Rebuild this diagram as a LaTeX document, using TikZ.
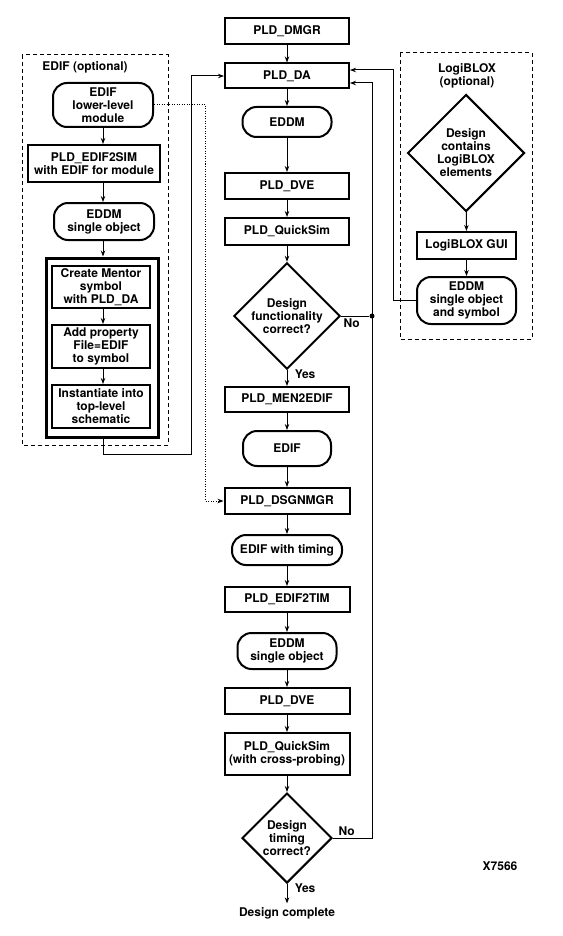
\documentclass[tikz,border=0pt]{standalone}
\usepackage{fontspec}
\setmainfont{TeX Gyre Heros}
\usetikzlibrary{positioning,shapes.geometric,arrows.meta}

\begin{document}
\begin{tikzpicture}[
        %Environment config
        x=1pt,y=-1pt,
        font=\fontsize{12}{13}\selectfont\bfseries,
        line width=1pt,
        >={Stealth[length=6pt,width=4.5pt]},
        %Environment styles
        BoxCfg/.style 2 args={
            draw,
            rectangle,
            line width=2pt,
            inner sep=0pt,
            align=center,
            minimum width=#1,
            minimum height=#2
        },
        TermCfg/.style 2 args={BoxCfg={#1}{#2},rounded corners=14pt},
        DecisionCfg/.style={
            draw,
            diamond,
            aspect=1,
            line width=2pt,
            inner sep=0pt,
            align=center,
            minimum width=#1,
            minimum height=#1
        },
        GroupCfg/.style={draw,line width=1pt,dash pattern=on 4pt off 3pt},
        HintCfg/.style={line width=1pt,dash pattern=on 1pt off 1.5pt},
        DotCfg/.style={circle,fill,inner sep=0pt,minimum size=5pt}
    ]
    \useasboundingbox (0,0) rectangle (562,936);

    % main flow
    \path
        (287,31) node[BoxCfg={124pt}{26pt}](DMGR){PLD\_DMGR}
        (287,76) node[BoxCfg={124pt}{25pt}](DA){PLD\_DA}
        (287,122) node[TermCfg={89pt}{30pt}](EDDM1){EDDM}
        (287,186) node[BoxCfg={124pt}{26pt}](DVE1){PLD\_DVE}
        (287,231.5) node[BoxCfg={124pt}{27pt}](QSIM1){PLD\_QuickSim}
        (287,316) node[DecisionCfg=106pt](DEC1){Design\\functionality\\correct?}
        (287,399.5) node[BoxCfg={124pt}{25pt}](MEN2EDIF){PLD\_MEN2EDIF}
        (287,448.5) node[TermCfg={88pt}{35pt}](EDIF){EDIF}
        (287,501) node[BoxCfg={125pt}{26pt}](DSGNMGR){PLD\_DSGNMGR}
        (287,550) node[TermCfg={110pt}{30pt}](EDIFTIM){EDIF with timing}
        (287,599.5) node[BoxCfg={125pt}{25pt}](EDIF2TIM){PLD\_EDIF2TIM}
        (287,651) node[TermCfg={99pt}{36pt}](EDDM2){EDDM\\single object}
        (287,701) node[BoxCfg={125pt}{26pt}](DVE2){PLD\_DVE}
        (287,754) node[BoxCfg={125pt}{42pt}](QSIM2){PLD\_QuickSim\\(with cross-probing)}
        (287,838) node[DecisionCfg=90pt](DEC2){Design\\timing\\correct?}
        (287,913) node(DONE){Design complete}
        (500,866) node(XREF){X7566}
        (DA.east |- DEC1.east) ++(22,0) node[DotCfg](JOIN){};

    % EDIF (optional)
    \draw[GroupCfg] (22,55) rectangle (168,445);
    \path
        (85,67) node(EDIFLBL){EDIF (optional)}
        (103,105) node[TermCfg={100pt}{44pt}](LOWMOD){EDIF\\lower-level\\module}
        (94,163.5) node[BoxCfg={132pt}{37pt}](EDIF2SIM){PLD\_EDIF2SIM\\with EDIF for module}
        (104,221.5) node[TermCfg={100pt}{37pt}](EDDMS){EDDM\\single object}
        (102,347.5) node[BoxCfg={112pt}{179pt},line width=3pt](SYMGRP){}
        (101,287) node[BoxCfg={98pt}{42pt}](MENTOR){Create Mentor\\symbol\\with PLD\_DA}
        (101,346.5) node[BoxCfg={98pt}{43pt}](ADDPROP){Add property\\File=EDIF\\to symbol}
        (101,406.5) node[BoxCfg={98pt}{43pt}](INST){Instantiate into\\top-level\\schematic};

    % LogiBLOX (optional)
    \draw[GroupCfg] (400,53) rectangle (532,339);
    \path
        (467,76) node[align=center,inner sep=0pt](LOGILBL){LogiBLOX\\(optional)}
        (466,153) node[DecisionCfg=117pt](DEC3){Design\\contains\\LogiBLOX\\elements}
        (466.5,245.5) node[BoxCfg={99pt}{27pt}](GUI){LogiBLOX GUI}
        (466.5,300.5) node[TermCfg={99pt}{47pt}](EDDMSYM){EDDM\\single object\\and symbol};

    \draw[->] (DMGR) -- (DA);
    \draw[->] (DA) -- (EDDM1);
    \draw[->] (EDDM1) -- (DVE1);
    \draw[->] (DVE1) -- (QSIM1);
    \draw[->] (QSIM1) -- (DEC1);
    \draw[->] (DEC1) -- (MEN2EDIF)
        node[pos=0.25,anchor=west,xshift=4pt]{Yes};
    \draw[->] (MEN2EDIF) -- (EDIF);
    \draw[->] (EDIF) -- (DSGNMGR);
    \draw[->] (DSGNMGR) -- (EDIFTIM);
    \draw[->] (EDIFTIM) -- (EDIF2TIM);
    \draw[->] (EDIF2TIM) -- (EDDM2);
    \draw[->] (EDDM2) -- (DVE2);
    \draw[->] (DVE2) -- (QSIM2);
    \draw[->] (QSIM2) -- (DEC2);
    \draw[->] (DEC2) -- (DONE)
        node[pos=0.2,anchor=west,xshift=4pt]{Yes};

    \draw
        (DEC1.east) -- (JOIN)
        (DEC1.east) node[anchor=north west,inner sep=2pt]{No};
    \draw[->]
        (DEC2.east) node[anchor=south west,inner sep=2pt,xshift=3pt]{No}
        -| ([xshift=22pt,yshift=-7pt]DA.east) -- ([yshift=-7pt]DA.east);

    \draw[->] (LOWMOD) -- (LOWMOD |- EDIF2SIM.north);
    \draw[->] (EDIF2SIM.south -| LOWMOD) -- (LOWMOD |- EDDMS.north);
    \draw[->] (EDDMS.south -| LOWMOD) -- (LOWMOD |- SYMGRP.north);
    \draw[->] (MENTOR.south -| LOWMOD) -- (LOWMOD |- ADDPROP.north);
    \draw[->] (ADDPROP.south -| LOWMOD) -- (LOWMOD |- INST.north);
    \draw[->] (SYMGRP.south -| LOWMOD) -- ++(0,16)
        -| ([xshift=-33pt]DA.west) -- (DA.west);
    \draw[HintCfg,->] (LOWMOD.east) -| ([xshift=-18pt]DSGNMGR.west) -- (DSGNMGR.west);

    \draw[->] (DEC3) -- (GUI);
    \draw[->] (GUI) -- (EDDMSYM);
    \draw[->] (EDDMSYM.west) -| ([xshift=43pt,yshift=6pt]DA.east) -- ([yshift=6pt]DA.east);
\end{tikzpicture}
\end{document}
